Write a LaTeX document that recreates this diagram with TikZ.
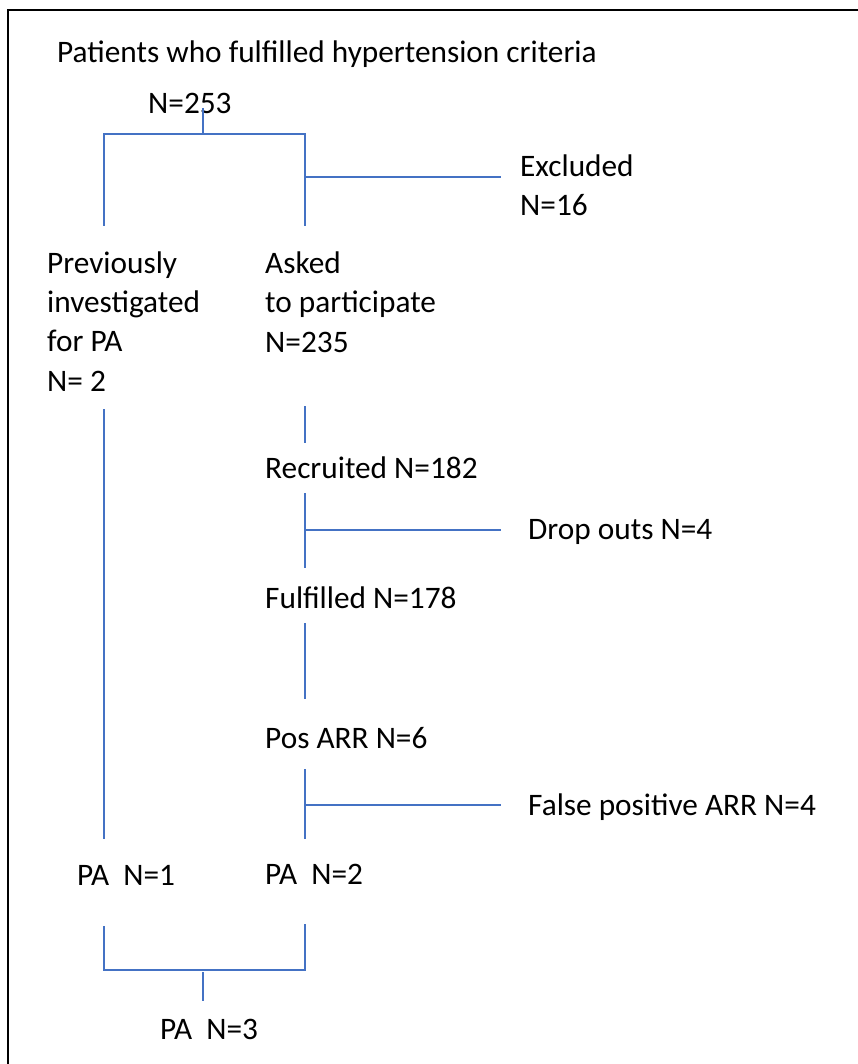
\documentclass[tikz,border=0pt]{standalone}
\usepackage{fontspec}
\setmainfont{Carlito}
\begin{document}
\begin{tikzpicture}[x=1pt,y=-1pt,
  lbl/.style={inner sep=0pt,anchor=base west,align=left,font=\fontsize{31.3}{39.3}\selectfont},
  conn/.style={draw=lineblue,line width=1.3pt}]
\definecolor{lineblue}{HTML}{4472C4}
\useasboundingbox (0,0) rectangle (857,1064);
\draw[line width=1.4pt] (8,1080) -- (8,10) -- (870,10);
% texts (base = baseline of the last line)
\node[lbl] (title) at (57,63) {Patients who fulfilled hypertension criteria};
\node[lbl] (n253) at (148,114) {N=253};
\node[lbl] (excl) at (520,216) {Excluded\\N=16};
\node[lbl] (prev) at (47,391) {Previously\\investigated\\for PA\\N= 2};
\node[lbl] (asked) at (265,352) {Asked\\to participate\\N=235};
\node[lbl] (recr) at (265,478) {Recruited N=182};
\node[lbl] (drop) at (528,539) {Drop outs N=4};
\node[lbl] (fulf) at (265,608) {Fulfilled N=178};
\node[lbl] (pos) at (265,748) {Pos ARR N=6};
\node[lbl] (fp) at (528,815) {False positive ARR N=4};
\node[lbl] (pa1) at (77,885) {PA\ \ N=1};
\node[lbl] (pa2) at (265,884) {PA\ \ N=2};
\node[lbl] (pa3) at (160,1039) {PA\ \ N=3};
% coordinates
\coordinate (a0) at (203,108);
\coordinate (a1) at (203,134);
\coordinate (bl) at (104,134);
\coordinate (br) at (305,134);
\coordinate (blb) at (104,226);
\coordinate (brb) at (305,226);
\coordinate (ex0) at (305,177);
\coordinate (ex1) at (501,177);
\coordinate (l0) at (104,409);
\coordinate (l1) at (104,839);
\coordinate (r0) at (305,406);
\coordinate (r1) at (305,443);
\coordinate (r2) at (305,493);
\coordinate (r3) at (305,568);
\coordinate (d0) at (305,530);
\coordinate (d1) at (501,530);
\coordinate (r4) at (305,623);
\coordinate (r5) at (305,699);
\coordinate (r6) at (305,769);
\coordinate (r7) at (305,839);
\coordinate (f0) at (305,805);
\coordinate (f1) at (501,805);
\coordinate (bl0) at (104,926);
\coordinate (bl1) at (104,970);
\coordinate (br0) at (305,924);
\coordinate (br1) at (305,970);
\coordinate (m0) at (203,972);
\coordinate (m1) at (203,1001);
% connectors
\draw[conn] (a0) -- (a1);
\draw[conn] (blb) -- (bl) -- (br) -- (brb);
\draw[conn] (ex0) -- (ex1);
\draw[conn] (l0) -- (l1);
\draw[conn] (r0) -- (r1);
\draw[conn] (r2) -- (r3);
\draw[conn] (d0) -- (d1);
\draw[conn] (r4) -- (r5);
\draw[conn] (r6) -- (r7);
\draw[conn] (f0) -- (f1);
\draw[conn] (bl0) -- (bl1) -- (br1) -- (br0);
\draw[conn] (m0) -- (m1);
\end{tikzpicture}
\end{document}
